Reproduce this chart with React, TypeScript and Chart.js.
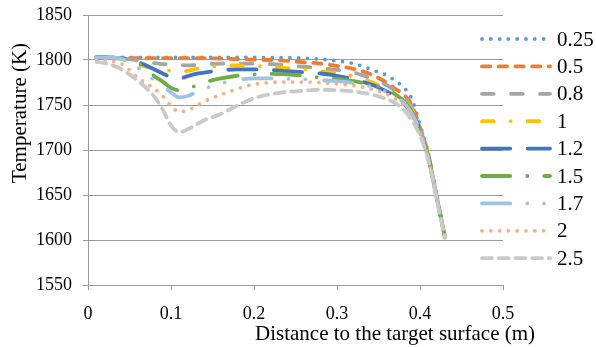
import React, { useEffect, useRef } from "react";
import { Chart, registerables } from "chart.js";

Chart.register(...registerables);

// ---- data ----
const DISTANCE = [0.01, 0.02, 0.03, 0.04, 0.05, 0.06, 0.07, 0.08, 0.09, 0.10, 0.11, 0.12, 0.13, 0.14, 0.16, 0.18, 0.20, 0.22, 0.24, 0.26, 0.28, 0.30, 0.32, 0.34, 0.35, 0.36, 0.37, 0.38, 0.39, 0.40, 0.41, 0.42, 0.43];

const SERIES_LABELS = ["0.25", "0.5", "0.8", "1", "1.2", "1.5", "1.7", "2", "2.5"];

const T_025 = [1803, 1803, 1803, 1803, 1803, 1803, 1803, 1803, 1803, 1803, 1803, 1803, 1803, 1803, 1803, 1803, 1803, 1802.5, 1802.5, 1802, 1801, 1799, 1796, 1790, 1786.5, 1783, 1777, 1770, 1757, 1728, 1696, 1650, 1603];
const T_05 = [1803, 1802.5, 1802, 1802, 1802, 1802, 1802, 1802, 1802, 1802, 1802, 1802, 1802, 1802, 1801.5, 1801, 1800.5, 1800, 1799, 1797.5, 1796, 1793.5, 1790, 1784.5, 1780, 1775, 1768, 1762, 1750, 1725, 1695, 1649, 1603];
const T_08 = [1803, 1803, 1802.5, 1802, 1801, 1799.5, 1798, 1796.5, 1795.5, 1795, 1794.5, 1794, 1794.5, 1795, 1796, 1796, 1796, 1795.5, 1794, 1792.5, 1791, 1789, 1786, 1780, 1776.5, 1772, 1766, 1759, 1747, 1724, 1694, 1649, 1603];
const T_1 = [1803, 1803, 1802.5, 1801, 1798, 1795, 1792.5, 1790.5, 1789, 1788, 1787, 1788, 1790, 1791.5, 1793.5, 1794, 1793.5, 1792.5, 1791, 1789.5, 1787.5, 1785.5, 1782, 1776, 1772, 1768, 1762, 1756, 1745, 1723, 1693, 1648, 1603];
const T_12 = [1803, 1803, 1802.5, 1802, 1800.5, 1798, 1794, 1789.5, 1785, 1781, 1779.5, 1782, 1784.5, 1786, 1788.5, 1789.5, 1789.5, 1789, 1787.5, 1786.5, 1785, 1782.5, 1778.5, 1773, 1769.5, 1765, 1760, 1752, 1741, 1722, 1692, 1648, 1603];
const T_15 = [1803, 1803, 1802.5, 1801.5, 1800, 1797, 1791, 1782, 1776, 1769, 1766.5, 1768.5, 1771.5, 1775, 1779.5, 1782.5, 1784, 1784.5, 1784, 1782.5, 1780.5, 1779, 1776.5, 1773, 1770.5, 1767, 1762, 1755, 1743, 1722, 1692, 1648, 1603];
const T_17 = [1803, 1803, 1802.5, 1801.5, 1797.5, 1792, 1784.5, 1777.5, 1771, 1764, 1758.5, 1760, 1764, 1768, 1774, 1778, 1779.5, 1779.5, 1779, 1778.5, 1777.5, 1776.5, 1774.5, 1771, 1768, 1764.5, 1760, 1753, 1741, 1721, 1691, 1647, 1603];
const T_2 = [1800, 1799.5, 1798.5, 1796, 1789, 1780.5, 1774, 1768, 1760, 1749, 1742.5, 1744, 1749, 1754, 1761.5, 1768, 1773, 1775, 1775.5, 1775.5, 1775, 1773.5, 1771.5, 1768, 1765.5, 1762, 1757, 1750, 1738, 1719, 1690, 1647, 1603];
const T_25 = [1798, 1796.5, 1794, 1790, 1784, 1777, 1769, 1759, 1745, 1727, 1720, 1723, 1728, 1733, 1740, 1749.5, 1757.5, 1762, 1764.5, 1766, 1767, 1766.5, 1765, 1762, 1759.5, 1756.5, 1752, 1745, 1733, 1716, 1689, 1646, 1603];

const SERIES_VALUES = [T_025, T_05, T_08, T_1, T_12, T_15, T_17, T_2, T_25];

const X_TICKS = [0, 0.1, 0.2, 0.3, 0.4, 0.5];
const Y_TICKS = [1550, 1600, 1650, 1700, 1750, 1800, 1850];

// ---- styles ----
const COLORS = ["#5B9BD5", "#ED7D31", "#A5A5A5", "#FFC000", "#4472C4", "#70AD47", "#9DC3E6", "#F4B183", "#C9C9C9"];
const DASHES = [
  [0, 8.8],
  [8.3, 8.4],
  [11.7, 17.3],
  [11.7, 17, 0, 17],
  [28.3, 17.3],
  [28.3, 17, 0, 17],
  [28.3, 17, 0, 16.7, 0, 19],
  [0, 8.8],
  [10, 6.7],
];
const LINE_W = 3.8;
const FONT = "'Liberation Serif', 'Times New Roman', serif";
const GRID = "#9a9a9a";

const sideLegend = {
  id: "sideLegend",
  afterDraw(chart: any) {
    const ctx = chart.ctx;
    chart.data.datasets.forEach((ds: any, i: number) => {
      const y = 39 + i * 27.4;
      ctx.save();
      ctx.strokeStyle = ds.borderColor;
      ctx.lineWidth = ds.borderWidth;
      ctx.lineCap = ds.borderCapStyle;
      ctx.setLineDash(ds.borderDash);
      ctx.beginPath();
      ctx.moveTo(482, y);
      ctx.lineTo(550, y);
      ctx.stroke();
      ctx.setLineDash([]);
      ctx.fillStyle = "#000";
      ctx.font = `21px ${FONT}`;
      ctx.textAlign = "left";
      ctx.textBaseline = "middle";
      ctx.fillText(ds.label, 557, y + 1);
      ctx.restore();
    });
  },
};

const axisTitles = {
  id: "axisTitles",
  afterDraw(chart: any) {
    const ctx = chart.ctx;
    ctx.save();
    ctx.fillStyle = "#000";
    ctx.font = `21px ${FONT}`;
    ctx.textBaseline = "alphabetic";
    ctx.textAlign = "left";
    ctx.fillText("Distance to the target surface (m)", 255, 340);
    ctx.translate(26, 113);
    ctx.rotate(-Math.PI / 2);
    ctx.textAlign = "center";
    ctx.fillText("Temperature (K)", 0, 0);
    ctx.restore();
  },
};

export default function App() {
  const ref = useRef<HTMLCanvasElement>(null);
  useEffect(() => {
    document.body.style.margin = "0";
    const datasets = SERIES_LABELS.map((label, i) => ({
      label,
      data: DISTANCE.map((x, k) => ({ x, y: SERIES_VALUES[i][k] })),
      borderColor: COLORS[i],
      backgroundColor: COLORS[i],
      borderWidth: LINE_W,
      borderDash: DASHES[i],
      borderCapStyle: "round",
      borderJoinStyle: "round",
      pointRadius: 0,
      cubicInterpolationMode: "monotone",
      fill: false,
      order: SERIES_LABELS.length - i,
    }));
    const chart = new Chart(ref.current as HTMLCanvasElement, {
      type: "line",
      data: { datasets } as any,
      options: {
        animation: false,
        responsive: false,
        layout: { padding: { left: 0, right: 93, top: 15, bottom: 0 } },
        plugins: { legend: { display: false }, tooltip: { enabled: false } },
        scales: {
          x: {
            type: "linear",
            min: X_TICKS[0],
            max: X_TICKS[X_TICKS.length - 1],
            afterBuildTicks: (s: any) => { s.ticks = X_TICKS.map((v) => ({ value: v })); },
            afterFit: (s: any) => { s.height = 62; s.paddingLeft = 0; s.paddingRight = 0; },
            ticks: {
              font: { family: FONT, size: 18 },
              color: "#000",
              padding: 13,
              maxRotation: 0,
              callback: (v: any) => (v === 0 ? "0" : Number(v).toFixed(1)),
            },
            grid: { drawOnChartArea: false, drawTicks: true, tickLength: 5, color: GRID },
            border: { display: true, color: GRID, width: 1 },
          },
          y: {
            type: "linear",
            min: Y_TICKS[0],
            max: Y_TICKS[Y_TICKS.length - 1],
            afterBuildTicks: (s: any) => { s.ticks = Y_TICKS.map((v) => ({ value: v })); },
            afterFit: (s: any) => { s.width = 88; s.paddingTop = 0; s.paddingBottom = 0; },
            ticks: {
              font: { family: FONT, size: 18 },
              color: "#000",
              padding: 11,
              callback: (v: any) => String(v),
            },
            grid: { drawTicks: true, tickLength: 5, color: GRID },
            border: { display: true, color: GRID, width: 1 },
          },
        },
      } as any,
      plugins: [sideLegend, axisTitles],
    });
    return () => chart.destroy();
  }, []);
  return (
    <div style={{ width: 596, height: 347 }}>
      <canvas ref={ref} width={596} height={347} />
    </div>
  );
}
